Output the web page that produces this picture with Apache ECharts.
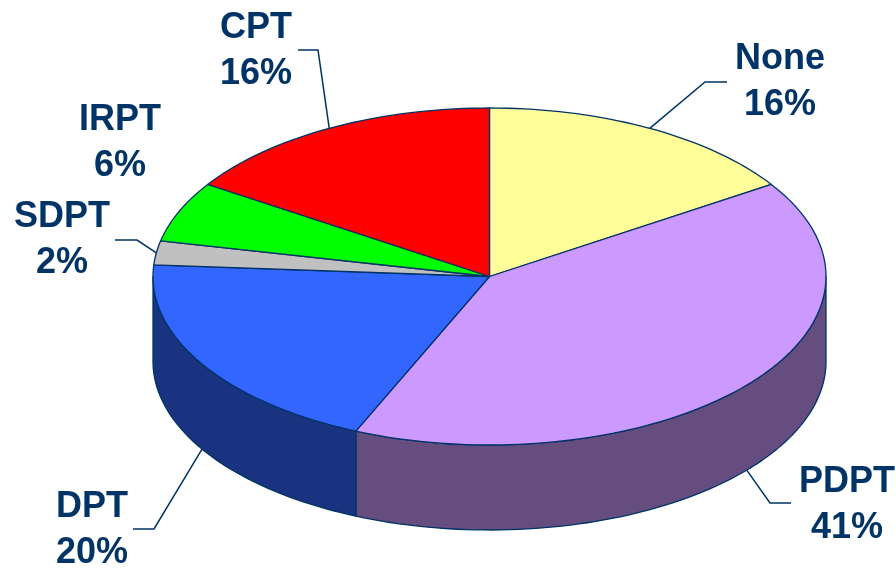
<!DOCTYPE html>
<html><head><meta charset="utf-8">
<script src="https://cdn.jsdelivr.net/npm/echarts@6/dist/echarts.min.js"></script>
<style>html,body{margin:0;padding:0;background:#fff}#c{width:895px;height:568px}</style>
</head><body><div id="c"></div>
<script>
// ---- data ----
const categories = ['None', 'PDPT', 'DPT', 'SDPT', 'IRPT', 'CPT'];
const shares = [15.8, 40.7, 19.6, 2.3, 5.8, 15.8];

// ---- styles / layout ----
const topColors  = ['#FFFF99', '#CC99FF', '#3366FF', '#C0C0C0', '#00FF00', '#FF0000'];
const sideColors = ['#80804C', '#654D7F', '#1A3380', '#606060', '#008000', '#800000'];
const labelCenter = [[780, 82], [847, 505], [92, 530], [62, 240], [120, 143], [256, 51]];
const leaderElbow = [[705, 82, 727], [770, 503, 791], [154, 529, 133], [137, 240, 115], null, [318, 50, 298]];
const geo = { cx: 489.5, cy: 276.5, rx: 336.5, ry: 168.5, depth: 85 };
const edge = '#003366';

const total = shares.reduce((a, b) => a + b, 0);
function pt(tDeg, dy) {
  const t = tDeg * Math.PI / 180;
  return [geo.cx + geo.rx * Math.cos(t), geo.cy - geo.ry * Math.sin(t) + (dy || 0)];
}
function arc(a, b, dy) { // from angle a to angle b
  const n = Math.max(2, Math.ceil(Math.abs(b - a) / 1.5));
  const out = [];
  for (let k = 0; k <= n; k++) out.push(pt(a + (b - a) * k / n, dy));
  return out;
}

const chart = echarts.init(document.getElementById('c'), null, { renderer: 'canvas' });
chart.setOption({
  animation: false,
  backgroundColor: '#ffffff',
  series: [{
    type: 'custom',
    coordinateSystem: 'none',
    data: shares.map((v, i) => ({ name: categories[i], value: [v] })),
    renderItem: function (params, api) {
      const i = params.dataIndex;
      const v = api.value(0);
      let before = 0;
      for (let k = 0; k < i; k++) before += shares[k];
      const a0 = 90 - 360 * before / total;
      const a1 = 90 - 360 * (before + v) / total;
      const children = [];
      // side wall (front half only: angles in [-180, 0])
      const lo = Math.max(a1, -180), hi = Math.min(a0, 0);
      if (hi > lo) {
        const pts = arc(lo, hi, 0).concat(arc(hi, lo, geo.depth));
        children.push({ type: 'polygon', z2: 1, shape: { points: pts },
          style: { fill: sideColors[i], stroke: edge, lineWidth: 1.3, lineJoin: 'round' } });
      }
      // top face
      const topPts = [[geo.cx, geo.cy]].concat(arc(a0, a1, 0));
      children.push({ type: 'polygon', z2: 2, shape: { points: topPts },
        style: { fill: topColors[i], stroke: edge, lineWidth: 1.3, lineJoin: 'round' } });
      // leader line
      const mid = (a0 + a1) / 2;
      const m = ((mid % 360) + 360) % 360;
      const anchor = pt(mid, m > 180 ? geo.depth : 0);
      const el = leaderElbow[i];
      if (el) {
        children.push({ type: 'polyline', z2: 3,
          shape: { points: [anchor, [el[0], el[1]], [el[2], el[1]]] },
          style: { stroke: edge, lineWidth: 1.5, fill: null } });
      }
      // label
      const pct = Math.round(v / total * 100);
      children.push({ type: 'text', z2: 4, x: labelCenter[i][0], y: labelCenter[i][1],
        style: { text: categories[i] + '\n' + pct + '%', fill: edge,
          font: 'bold 36px "Liberation Sans", Arial, sans-serif',
          align: 'center', verticalAlign: 'middle', lineHeight: 46 } });
      return { type: 'group', children: children };
    }
  }]
});
</script>
</body></html>
